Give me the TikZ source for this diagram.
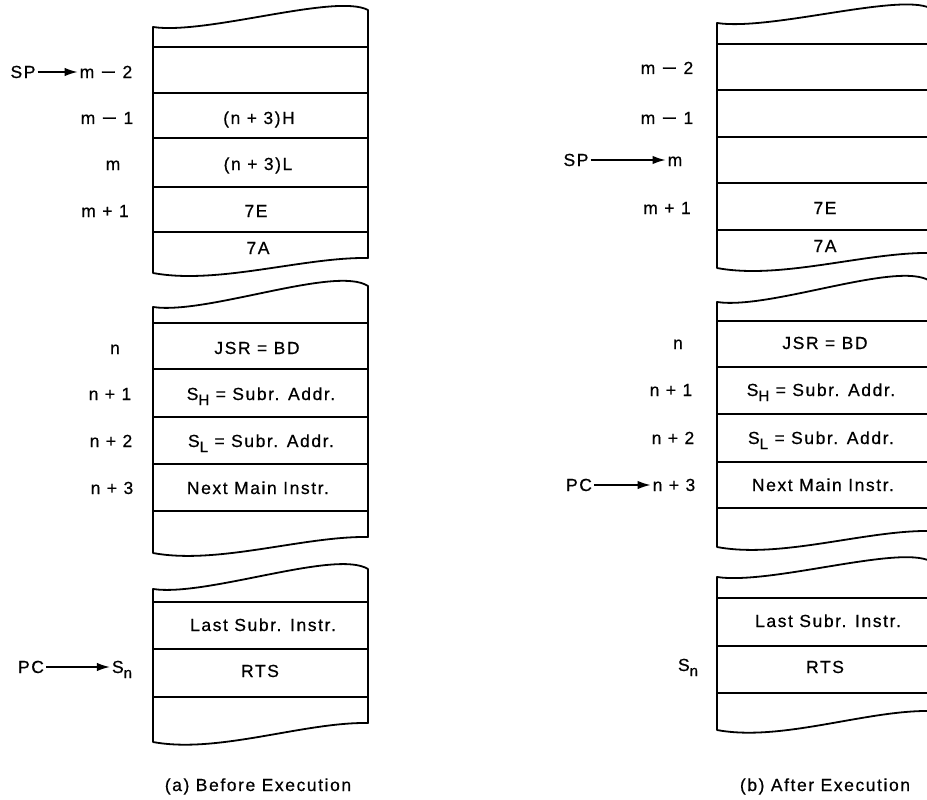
\documentclass[tikz,border=0pt]{standalone}
\usepackage{fontspec}
\setmainfont{Liberation Sans}[LetterSpace=9,FakeBold=0.6]
\usetikzlibrary{arrows.meta}
\newcommand\subsc[1]{\raisebox{-5pt}{\fontsize{15}{15}\selectfont #1}}
\newcommand\mminus{\scalebox{1.5}[1]{−}}
% L R yt yb rise drop
\newcommand\memblock[6]{%
  \draw[outline] (#1,#3) .. controls ({#1+0.25*(#2-#1)},{#3+8}) and ({#1+0.85*(#2-#1)},{#3-2*#5}) .. (#2,{#3-#5})
    -- (#2,{#4-#6}) .. controls ({#1+0.7*(#2-#1)},{#4-#6-1}) and ({#1+0.3*(#2-#1)},{#4+12}) .. (#1,#4) -- cycle;}
\newcommand\rowlines[3]{% L R list
  \foreach \yy in {#3} {\draw[rowline] (#1,\yy) -- (#2,\yy);}}
\tikzset{
  outline/.style={line width=1.8pt, line join=round},
  rowline/.style={line width=1.4pt},
  txt/.style={inner sep=2pt, text height=12pt, text depth=0pt, font=\fontsize{17.5}{19}\selectfont},
  arr/.style={line width=1.4pt, -{Latex[length=13pt,width=8.5pt]}},
}
\begin{document}
\begin{tikzpicture}[x=1pt,y=-1pt]
\useasboundingbox (0,0) rectangle (927,800);
\clip (0,0) rectangle (927,800);
% ---------------- left panel ----------------
\memblock{153}{368}{27}{273}{17}{15}
\rowlines{153}{368}{47,93,138,187,232}
\memblock{153}{368}{307}{553}{21}{16}
\rowlines{153}{368}{323,369,417,464,511}
\memblock{153}{368}{589}{742}{20}{19}
\rowlines{153}{368}{602,649,697}

\node[txt] (aH)  at (259,118) {(n + 3)H};
\node[txt] (aL)  at (258,164) {(n + 3)L};
\node[txt] (a7E) at (256,211) {7E};
\node[txt] (a7A) at (258,248) {7A};
\node[txt] (aJSR) at (257,348) {JSR = BD};
\node[txt] (aSH) at (261,394) {S\subsc{H} = Subr. Addr.};
\node[txt] (aSL) at (261,441) {S\subsc{L} = Subr. Addr.};
\node[txt] (aNext) at (258,488) {Next Main Instr.};
\node[txt] (aLast) at (263,625) {Last Subr. Instr.};
\node[txt] (aRTS) at (260,671) {RTS};

\node[txt] (asp) at (23,72) {SP};
\node[txt] (am2) at (106,72) {m \mminus{} 2};
\draw[arr] (asp) -- (am2);
\node[txt] (am1) at (107,118) {m \mminus{} 1};
\node[txt] (am)  at (113,164) {m};
\node[txt] (amp1) at (105,211) {m + 1};
\node[txt] (an)  at (115,348) {n};
\node[txt] (anp1) at (110,394) {n + 1};
\node[txt] (anp2) at (111,441) {n + 2};
\node[txt] (anp3) at (112,488) {n + 3};
\node[txt] (apc) at (31,667) {PC};
\node[txt] (asn) at (122,667) {S\subsc{n}};
\draw[arr] (apc) -- (asn);
\node[txt] (acap) at (258,785) {(a) Before Execution};

% ---------------- right panel ----------------
\memblock{717}{930}{23}{268}{15}{15}
\rowlines{717}{930}{44,90,137,183,230}
\memblock{717}{930}{302}{547}{21}{16}
\rowlines{717}{930}{321,367,414,462,508}
\memblock{717}{930}{577}{730}{16}{19}
\rowlines{717}{930}{598,646,693}

\node[txt] (b7E) at (825,208) {7E};
\node[txt] (b7A) at (825,246) {7A};
\node[txt] (bJSR) at (825,343) {JSR = BD};
\node[txt] (bSH) at (821,390) {S\subsc{H} = Subr. Addr.};
\node[txt] (bSL) at (821,438) {S\subsc{L} = Subr. Addr.};
\node[txt] (bNext) at (823,485) {Next Main Instr.};
\node[txt] (bLast) at (828,621) {Last Subr. Instr.};
\node[txt] (bRTS) at (825,667) {RTS};

\node[txt] (bm2) at (667,68) {m \mminus{} 2};
\node[txt] (bm1) at (667,118) {m \mminus{} 1};
\node[txt] (bsp) at (576,160) {SP};
\node[txt] (bm)  at (675,160) {m};
\draw[arr] (bsp) -- (bm);
\node[txt] (bmp1) at (667,208) {m + 1};
\node[txt] (bn)  at (678,343) {n};
\node[txt] (bnp1) at (671,390) {n + 1};
\node[txt] (bnp2) at (673,438) {n + 2};
\node[txt] (bpc) at (579,485) {PC};
\node[txt] (bnp3) at (674,485) {n + 3};
\draw[arr] (bpc) -- (bnp3);
\node[txt] (bsn) at (688,665) {S\subsc{n}};
\node[txt] (bcap) at (825,785) {(b) After Execution};
\end{tikzpicture}
\end{document}
